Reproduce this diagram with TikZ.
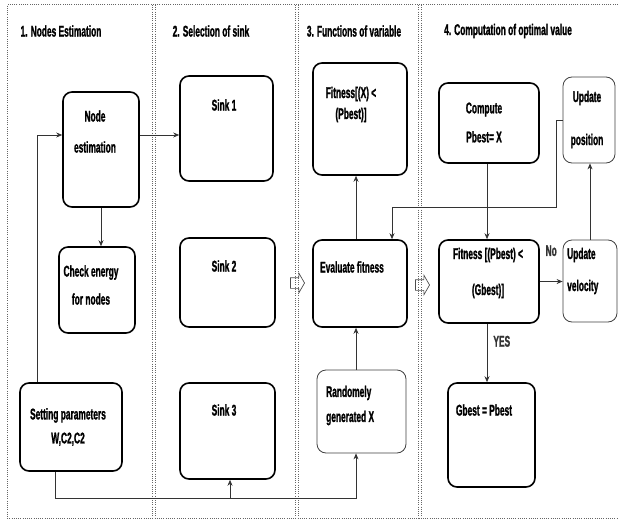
\documentclass[tikz,border=0pt]{standalone}
\usepackage{fontspec}
\setmainfont[FakeStretch=0.54, BoldFeatures={FakeBold=1.2}]{Liberation Sans}
\usetikzlibrary{arrows.meta, shapes.arrows}

\begin{document}
\begin{tikzpicture}[x=1pt, y=-1pt,
    box/.style={rectangle, rounded corners=9pt, draw=black, line width=1.6pt, fill=white},
    thinbox/.style={rectangle, rounded corners=9pt, draw=black!75, line width=0.8pt, fill=white},
    txt/.style={font=\fontsize{15.5}{18}\selectfont\bfseries, inner sep=0pt, align=#1},
    txt/.default=center,
    arr/.style={-{Stealth[length=6pt, width=5pt]}, black!80, line width=0.8pt},
    border/.style={black!60, line width=1pt, dash pattern=on 1pt off 1.2pt},
    hollow/.style={single arrow, draw=black!70, line width=0.7pt, minimum height=14pt,
                   inner sep=5pt, single arrow head extend=4.5pt, single arrow tip angle=120}
]
\useasboundingbox (0,0) rectangle (618,524);

% Frame and columns
\draw[border] (618,5) -- (7,5) -- (7,518) -- (618,518);
\foreach \x in {152,155,295,298,418,421}
  \draw[border] (\x,5) -- (\x,518);

% Titles
\node[txt] (t1) at (61,31) {1. Nodes Estimation};
\node[txt] (t2) at (211,31) {2. Selection of sink};
\node[txt] (t3) at (354,31) {3. Functions of variable};
\node[txt] (t4) at (508,31) {4. Computation of optimal value};

% Boxes
\node[box, minimum width=76pt, minimum height=115pt] (ne) at (101,149.5) {};
\node[box, minimum width=76pt, minimum height=86pt] (ce) at (97,290) {};
\node[box, minimum width=102pt, minimum height=88pt] (sp) at (71,427) {};
\node[box, minimum width=93pt, minimum height=105pt] (s1) at (226.5,128.5) {};
\node[box, minimum width=95pt, minimum height=89pt] (s2) at (227.5,282.5) {};
\node[box, minimum width=95pt, minimum height=96pt] (s3) at (227.5,431) {};
\node[box, minimum width=94pt, minimum height=112pt] (fx) at (360,119) {};
\node[box, minimum width=94pt, minimum height=87pt] (ef) at (360,283.5) {};
\node[thinbox, minimum width=89pt, minimum height=83pt] (rg) at (361.5,411.5) {};
\node[box, minimum width=100pt, minimum height=80pt] (cp) at (489,123) {};
\node[thinbox, minimum width=52pt, minimum height=86pt] (up) at (589,120) {};
\node[box, minimum width=100pt, minimum height=83pt] (fp) at (489,281.5) {};
\node[thinbox, minimum width=54pt, minimum height=82pt] (uv) at (590,281) {};
\node[box, minimum width=87pt, minimum height=104pt] (gb) at (491.5,435) {};

% Box texts
\node[txt] (ne-t) at (95,131.5) {Node\\[13pt]estimation};
\node[txt] (ce-t) at (91,285) {Check energy\\[10pt]for nodes};
\node[txt] (sp-t) at (68,427) {Setting parameters\\[6pt]W,C2,C2};
\node[txt] (s1-t) at (224,105) {Sink 1};
\node[txt] (s2-t) at (224,266) {Sink 2};
\node[txt] (s3-t) at (224,410) {Sink 3};
\node[txt] (fx-t) at (351,104.5) {Fitness[(X) <\\[3pt](Pbest)]};
\node[txt] (ef-t) at (352,267) {Evaluate fitness};
\node[txt=left, anchor=west] (rg-t) at (326,405.5) {Randomely\\[7pt]generated X};
\node[txt] (cp-t) at (484,122.5) {Compute\\[11pt]Pbest= X};
\node[txt] (up-t) at (587,119.5) {Update\\[25pt]position};
\node[txt] (fp-t) at (488,273) {Fitness [(Pbest) <\\[18pt](Gbest)]};
\node[txt=left, anchor=west] (uv-t) at (567,271) {Update\\[14pt]velocity};
\node[txt] (gb-t) at (484,410) {Gbest = Pbest};

% Hollow arrows between columns
\node[hollow] (h1) at (296,283) {};
\node[hollow] (h2) at (421,285) {};

% Arrows
\coordinate (bus) at (356,498);
\coordinate (loop) at (556,207);
\draw[arr] ([xshift=-34pt]sp.north) |- ([yshift=14.5pt]ne.west);
\draw[arr] ([yshift=14.5pt]ne.east) -- ([yshift=14.5pt]ne.east -| s1.west);
\draw[arr] (ne.south) -- (ne.south |- ce.north);
\draw[arr] ([xshift=-16pt]sp.south) |- (bus) -- (bus |- rg.south);
\draw[arr] ([xshift=2.5pt]s3.south |- bus) -- ([xshift=2.5pt]s3.south);
\draw[arr] (bus |- rg.north) -- (bus |- ef.south);
\draw[arr] (bus |- ef.north) -- (bus |- fx.south);
\draw[arr] ([xshift=-2pt]cp.south) -- ([xshift=-2pt]fp.north);
\draw[arr] (fp.east) -- (fp.east -| uv.west)
  node[txt, midway, above=25pt] (no) {No};
\draw[arr] (uv.north) -- (uv.north |- up.south);
\draw[arr] (up.west) -| (loop) -| ([xshift=32pt]ef.north);
\draw[arr] ([xshift=-2pt]fp.south) -- ([xshift=-2pt]fp.south |- gb.north)
  node[txt, pos=0.3, right=6pt] (yes) {YES};
\end{tikzpicture}
\end{document}
